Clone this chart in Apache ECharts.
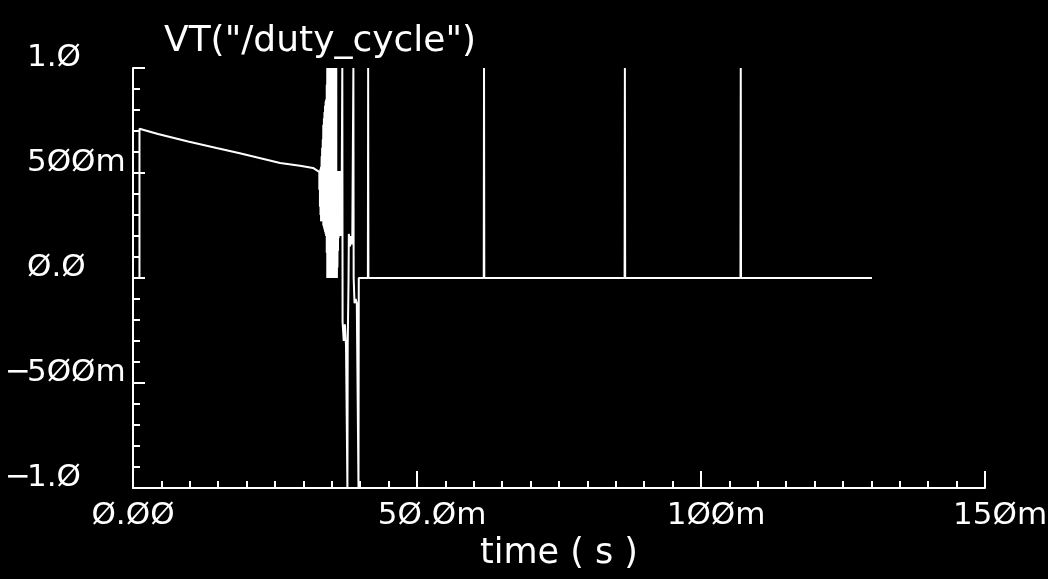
<!DOCTYPE html>
<html>
<head>
<meta charset="utf-8">
<script src="https://cdn.jsdelivr.net/npm/echarts@6/dist/echarts.min.js"></script>
<style>
html,body{margin:0;padding:0;background:#000;}
#chart{width:1048px;height:579px;}
</style>
</head>
<body>
<div id="chart"></div>
<script>
// ---- data (time in ms, value in V) ----
const xTickValues = [0, 50, 100, 150];
const xTickLabels = ['Ø.ØØ', '5Ø.Øm', '1ØØm', '15Øm'];
const yTickValues = [-1, -0.5, 0, 0.5, 1];
const yTickLabels = ['−1.Ø', '−5ØØm', 'Ø.Ø', '5ØØm', '1.Ø'];

// smooth decaying part
const preTime  = [1.14, 1.14, 4.4, 9.7, 14.7, 18.8, 25.9, 29.4, 31.7, 32.9];
const preValue = [0, 0.711, 0.686, 0.650, 0.619, 0.594, 0.548, 0.535, 0.524, 0.503];

// dense oscillation band (upper / lower envelope)
const bandTime = [32.9, 33.0, 33.1, 33.2, 33.3, 33.4, 33.5, 33.6, 33.7, 33.8, 33.9, 34.0, 34.1, 34.2,
                  34.3, 34.4, 34.5, 34.6, 34.7, 34.8, 34.9, 35.0, 35.1, 35.2, 35.3, 35.4, 35.5, 35.6, 35.7,
                  35.8, 35.9, 36.0, 36.1, 36.2, 36.3, 36.4, 36.5, 36.6, 36.7];
const bandHigh = [0.50, 0.51, 0.52, 0.53, 0.58, 0.62, 0.66, 0.73, 0.76, 0.79, 0.82, 0.84, 0.85, 0.92,
                  1.0, 1.0, 1.0, 1.0, 1.0, 1.0, 1.0, 1.0, 1.0, 1.0, 1.0, 1.0, 1.0, 1.0, 1.0,
                  0.50, 0.50, 0.50, 0.51, 0.51, 0.51, 0.51, 0.51, 0.51, 0.51];
const bandLow  = [0.42, 0.34, 0.30, 0.27, 0.28, 0.29, 0.28, 0.25, 0.24, 0.23, 0.22, 0.21, 0.20, 0.12,
                  0.0, 0.0, 0.0, 0.0, 0.0, 0.0, 0.0, 0.0, 0.0, 0.0, 0.0, 0.0, 0.0, 0.0, 0.0,
                  0.00, 0.05, 0.13, 0.19, 0.20, 0.20, 0.20, 0.20, 0.20, 0.20];

// after the band: excursions, then flat with spikes
const postTime  = [36.85, 36.9, 37.1, 37.3, 37.5, 37.75, 37.8, 37.95, 38.0, 38.2, 38.4, 38.6,
                   38.8, 38.85, 39.0, 39.2, 39.4, 39.7, 39.75, 41.35, 41.4, 41.45,
                   61.75, 61.8, 61.85, 86.55, 86.6, 86.65, 106.95, 107.0, 107.05, 130.1];
const postValue = [1.0, -0.21, -0.30, -0.22, -0.32, -1.0, -0.32, 0.0, 0.21, 0.15, 0.20, 0.16,
                   1.0, 0.0, -0.12, -0.10, -0.12, -1.0, 0.0, 0.0, 1.0, 0.0,
                   0.0, 1.0, 0.0, 0.0, 1.0, 0.0, 0.0, 1.0, 0.0, 0.0];

// ---- build series data ----
const bandData = [];
bandTime.forEach((t, i) => { bandData.push([t, bandHigh[i]]); bandData.push([t, bandLow[i]]); });
const data = [];
preTime.forEach((t, i) => data.push([t, preValue[i]]));
bandData.forEach(p => data.push(p));
postTime.forEach((t, i) => data.push([t, postValue[i]]));

const FONT = 'DejaVu Sans';
const LBL = 31;

function findIdx(arr, v) {
  for (let i = 0; i < arr.length; i++) if (Math.abs(arr[i] - v) < 1e-9) return i;
  return -1;
}

const chart = echarts.init(document.getElementById('chart'), null, {renderer: 'canvas'});
chart.setOption({
  backgroundColor: '#000',
  animation: false,
  title: {
    text: 'VT("/duty_cycle")',
    left: 164,
    top: 24,
    padding: 0,
    textStyle: {color: '#fff', fontFamily: FONT, fontSize: 36, fontWeight: 'normal'}
  },
  grid: {left: 133, right: 63, top: 68, bottom: 91, containLabel: false, outerBoundsMode: 'none'},
  xAxis: {
    type: 'value',
    min: 0, max: 150, interval: 50,
    name: 'time ( s )',
    nameLocation: 'middle',
    nameGap: 48,
    nameTextStyle: {color: '#fff', fontFamily: FONT, fontSize: 35},
    splitLine: {show: false},
    axisLine: {show: true, onZero: false, lineStyle: {color: '#fff', width: 2}},
    axisTick: {show: true, inside: true, length: 17, lineStyle: {color: '#fff', width: 2}},
    minorTick: {show: true, splitNumber: 10, length: 7, lineStyle: {color: '#fff', width: 2}},
    axisLabel: {
      show: true, margin: 12, hideOverlap: false,
      formatter: function (v) {
        const i = findIdx(xTickValues, v);
        if (i < 0) return '';
        const s = xTickLabels[i];
        if (s.endsWith('m')) return '{h|m}{n|' + s.slice(0, -1) + '}{n|m}';
        return '{n|' + s + '}';
      },
      rich: {
        n: {color: '#fff', fontFamily: FONT, fontSize: LBL},
        h: {color: 'rgba(0,0,0,0)', fontFamily: FONT, fontSize: LBL}
      }
    }
  },
  yAxis: {
    type: 'value',
    min: -1, max: 1, interval: 0.5,
    splitLine: {show: false},
    axisLine: {show: true, onZero: false, lineStyle: {color: '#fff', width: 2}},
    axisTick: {show: true, inside: true, length: 12, lineStyle: {color: '#fff', width: 2}},
    minorTick: {show: true, splitNumber: 5, length: 7, lineStyle: {color: '#fff', width: 2}},
    axisLabel: {
      show: true, margin: 128, align: 'left', verticalAlign: 'middle',
      padding: [0, 0, 21, 0], hideOverlap: false,
      formatter: function (v) {
        const i = findIdx(yTickValues, v);
        if (i < 0) return '';
        const s = yTickLabels[i];
        if (s.startsWith('−')) return '{s|−}{n|' + s.slice(1) + '}';
        return '{h|−}{n|' + s + '}';
      },
      rich: {
        s: {color: '#fff', fontFamily: FONT, fontSize: LBL, width: 22, align: 'left'},
        h: {color: 'rgba(0,0,0,0)', fontFamily: FONT, fontSize: LBL, width: 22, align: 'left'},
        n: {color: '#fff', fontFamily: FONT, fontSize: LBL, align: 'left'}
      }
    }
  },
  series: [{
    type: 'line',
    data: data,
    symbol: 'none',
    showSymbol: false,
    clip: true,
    smooth: false,
    lineStyle: {color: '#fff', width: 2, join: 'bevel', cap: 'butt'}
  }, {
    type: 'line',
    data: bandData,
    symbol: 'none',
    showSymbol: false,
    clip: true,
    smooth: false,
    silent: true,
    lineStyle: {color: '#fff', width: 3, join: 'bevel', cap: 'butt'}
  }]
});
</script>
</body>
</html>
